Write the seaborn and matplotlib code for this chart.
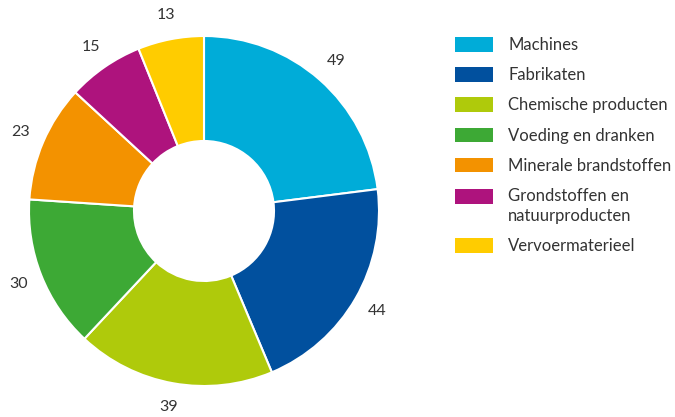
import matplotlib
matplotlib.use("Agg")
import matplotlib.pyplot as plt
import seaborn as sns

categories = ["Machines", "Fabrikaten", "Chemische producten", "Voeding en dranken",
              "Minerale brandstoffen", "Grondstoffen en\nnatuurproducten", "Vervoermaterieel"]
values = [49, 44, 39, 30, 23, 15, 13]
colors = ["#00ACD8", "#01509E", "#AFCA0B", "#3DA935", "#F39200", "#AE137D", "#FFCC00"]

sns.set_theme(style="white")
plt.rcParams['font.family'] = ['Lato', 'DejaVu Sans']
text_color = "#333333"

fig = plt.figure(figsize=(6.75, 4.17), dpi=100)
ax = fig.add_axes([29/675, 31/417, 350/675, 350/417])

wedges, texts = ax.pie(values, colors=colors, startangle=90, counterclock=False,
                       radius=1.0, labels=[str(v) for v in values], labeldistance=1.14,
                       wedgeprops=dict(width=0.6, edgecolor="white", linewidth=1.5),
                       textprops=dict(fontsize=11.5, color=text_color))
for t in texts:
    t.set_ha("center")
    t.set_va("center")
    t.set_clip_on(False)
ax.set_xlim(-1, 1)
ax.set_ylim(-1, 1)
ax.set_aspect("equal")
ax.axis("off")

fs = 12
px = fs * 100 / 72
leg = fig.legend(wedges, categories, loc="upper left", bbox_to_anchor=(455/675, 1 - 37/417),
                 frameon=False, fontsize=fs, handlelength=38/px, handleheight=16/px,
                 labelspacing=0.85, handletextpad=15/px, borderaxespad=0, borderpad=0)
for t in leg.get_texts():
    t.set_color(text_color)
    t.set_linespacing(1.32)
for h, lab in zip(leg.legend_handles, categories):
    h.set_edgecolor("none")
    if "\n" in lab:
        h.set_y(h.get_y() + 7.4)

fig.savefig("out.png", dpi=100)
